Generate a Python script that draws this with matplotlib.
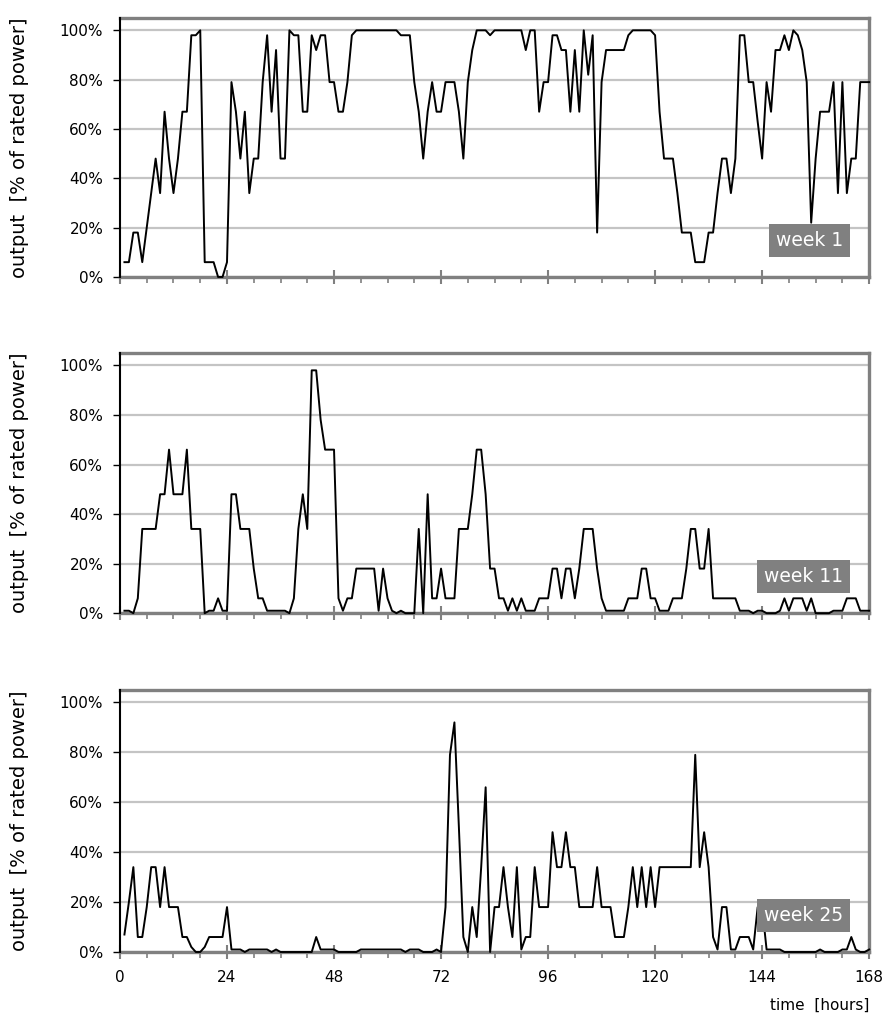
import matplotlib.pyplot as plt
import numpy as np

# hourly output of the plant, hours 1..168 of each week (% of rated power)
hours = np.arange(1, 169)

week1 = [6, 6, 18, 18, 6, 20, 34, 48, 34, 67,
         48, 34, 48, 67, 67, 98, 98, 100, 6, 6,
         6, 0, 0, 6, 79, 67, 48, 67, 34, 48,
         48, 79, 98, 67, 92, 48, 48, 100, 98, 98,
         67, 67, 98, 92, 98, 98, 79, 79, 67, 67,
         79, 98, 100, 100, 100, 100, 100, 100, 100, 100,
         100, 100, 98, 98, 98, 79, 67, 48, 67, 79,
         67, 67, 79, 79, 79, 67, 48, 79, 92, 100,
         100, 100, 98, 100, 100, 100, 100, 100, 100, 100,
         92, 100, 100, 67, 79, 79, 98, 98, 92, 92,
         67, 92, 67, 100, 82, 98, 18, 79, 92, 92,
         92, 92, 92, 98, 100, 100, 100, 100, 100, 98,
         67, 48, 48, 48, 34, 18, 18, 18, 6, 6,
         6, 18, 18, 34, 48, 48, 34, 48, 98, 98,
         79, 79, 63, 48, 79, 67, 92, 92, 98, 92,
         100, 98, 92, 79, 22, 48, 67, 67, 67, 79,
         34, 79, 34, 48, 48, 79, 79, 79]

week11 = [1, 1, 0, 6, 34, 34, 34, 34, 48, 48,
          66, 48, 48, 48, 66, 34, 34, 34, 0, 1,
          1, 6, 1, 1, 48, 48, 34, 34, 34, 18,
          6, 6, 1, 1, 1, 1, 1, 0, 6, 34,
          48, 34, 98, 98, 78, 66, 66, 66, 6, 1,
          6, 6, 18, 18, 18, 18, 18, 1, 18, 6,
          1, 0, 1, 0, 0, 0, 34, 0, 48, 6,
          6, 18, 6, 6, 6, 34, 34, 34, 48, 66,
          66, 48, 18, 18, 6, 6, 1, 6, 1, 6,
          1, 1, 1, 6, 6, 6, 18, 18, 6, 18,
          18, 6, 18, 34, 34, 34, 18, 6, 1, 1,
          1, 1, 1, 6, 6, 6, 18, 18, 6, 6,
          1, 1, 1, 6, 6, 6, 18, 34, 34, 18,
          18, 34, 6, 6, 6, 6, 6, 6, 1, 1,
          1, 0, 1, 1, 0, 0, 0, 1, 6, 1,
          6, 6, 6, 1, 6, 0, 0, 0, 0, 1,
          1, 1, 6, 6, 6, 1, 1, 1]

week25 = [7, 20, 34, 6, 6, 18, 34, 34, 18, 34,
          18, 18, 18, 6, 6, 2, 0, 0, 2, 6,
          6, 6, 6, 18, 1, 1, 1, 0, 1, 1,
          1, 1, 1, 0, 1, 0, 0, 0, 0, 0,
          0, 0, 0, 6, 1, 1, 1, 1, 0, 0,
          0, 0, 0, 1, 1, 1, 1, 1, 1, 1,
          1, 1, 1, 0, 1, 1, 1, 0, 0, 0,
          1, 0, 18, 79, 92, 50, 6, 0, 18, 6,
          34, 66, 0, 18, 18, 34, 18, 6, 34, 1,
          6, 6, 34, 18, 18, 18, 48, 34, 34, 48,
          34, 34, 18, 18, 18, 18, 34, 18, 18, 18,
          6, 6, 6, 18, 34, 18, 34, 18, 34, 18,
          34, 34, 34, 34, 34, 34, 34, 34, 79, 34,
          48, 34, 6, 1, 18, 18, 1, 1, 6, 6,
          6, 1, 18, 18, 1, 1, 1, 1, 0, 0,
          0, 0, 0, 0, 0, 0, 1, 0, 0, 0,
          0, 1, 1, 6, 1, 0, 0, 1]

week_names = ['week 1', 'week 11', 'week 25']
series = [week1, week11, week25]
pct_ticks = [0, 20, 40, 60, 80, 100]
hour_ticks = [0, 24, 48, 72, 96, 120, 144, 168]

plt.rcParams['font.family'] = 'DejaVu Sans'

fig = plt.figure(figsize=(8.94, 10.22), dpi=100)

# panel rectangles in figure fractions (left, bottom, width, height)
rects = [(0.1342, 0.729, 0.838, 0.2534),
         (0.1342, 0.400, 0.838, 0.2546),
         (0.1342, 0.0685, 0.838, 0.2564)]

frame = '#808080'

for i, (name, vals) in enumerate(zip(week_names, series)):
    ax = fig.add_axes(rects[i])
    ax.plot(hours, vals, color='black', lw=1.4, zorder=3, clip_on=False)

    ax.set_xlim(0, 168)
    ax.set_ylim(0, 105)

    ax.set_yticks(pct_ticks)
    ax.set_yticklabels([f'{v}%' for v in pct_ticks], fontsize=11)
    ax.yaxis.grid(True, color='#c4c4c4', lw=1.6)
    ax.set_axisbelow(True)

    ax.set_xticks(hour_ticks)
    ax.set_xticks(np.arange(0, 169, 6), minor=True)
    ax.tick_params(axis='x', which='major', direction='inout', length=10,
                   width=1.5, color=frame, labelsize=11, pad=8)
    ax.tick_params(axis='x', which='minor', direction='out', length=4,
                   width=1.2, color=frame)
    ax.tick_params(axis='y', direction='out', length=5, width=1,
                   color='black', pad=7)

    for side in ['top', 'right', 'bottom']:
        ax.spines[side].set_color(frame)
        ax.spines[side].set_linewidth(2.4)
    ax.spines['left'].set_color('black')
    ax.spines['left'].set_linewidth(1.5)
    ax.spines['left'].set_zorder(4)

    ax.set_ylabel('output  [% of rated power]', fontsize=14)
    ax.yaxis.set_label_coords(-0.121, 0.5)

    ax.text(0.9655, 0.14, name, transform=ax.transAxes, ha='right',
            va='center', fontsize=13.5, color='white', zorder=6,
            bbox=dict(boxstyle='square,pad=0.38', fc=frame, ec='none'))

    if i < 2:
        ax.tick_params(axis='x', labelbottom=False)
    else:
        ax.set_xlabel('time  [hours]', fontsize=11, loc='right', labelpad=9)

fig.savefig('out.png', dpi=100)
